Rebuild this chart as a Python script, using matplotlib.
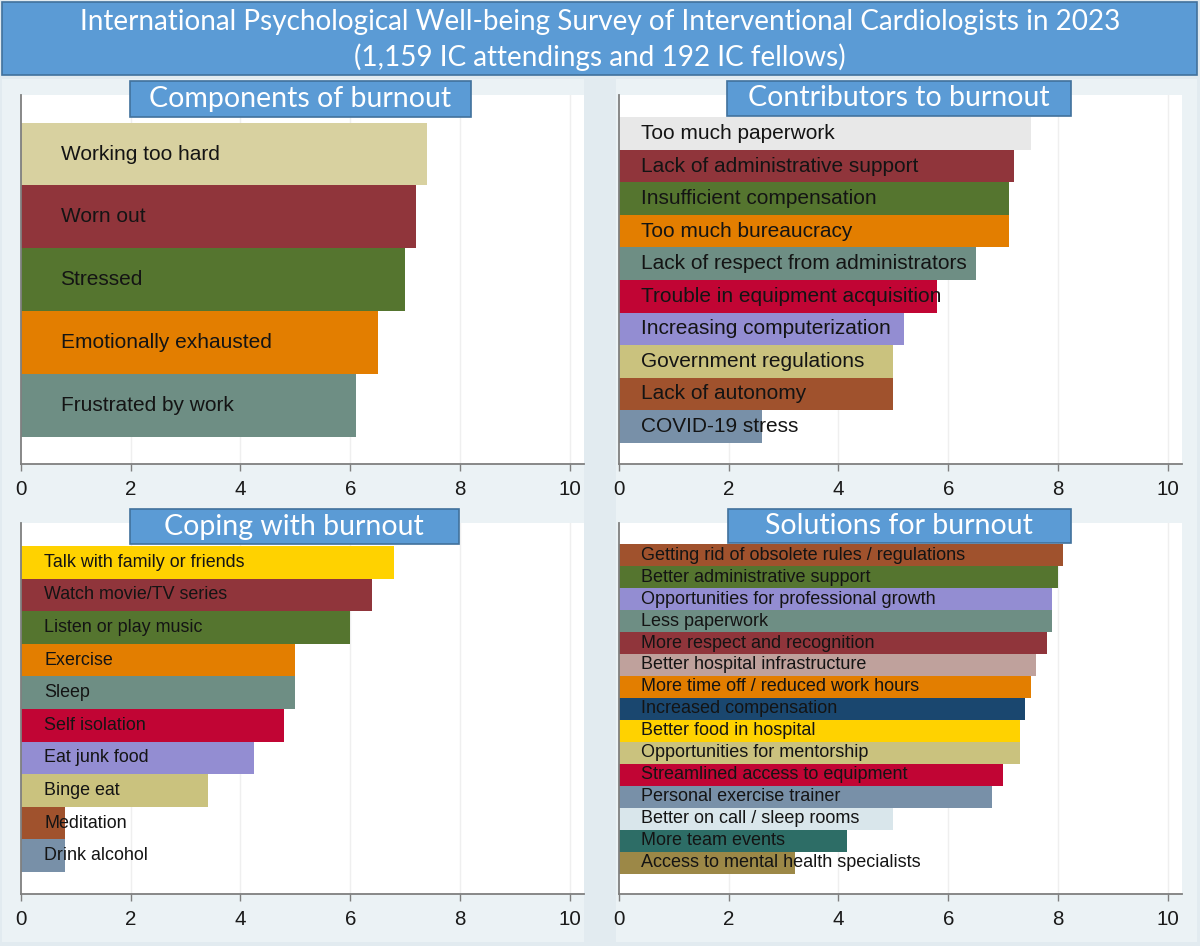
import matplotlib
matplotlib.use("Agg")
import matplotlib.pyplot as plt
from matplotlib.patches import Rectangle

# ---------------- data ----------------
title_line1 = "International Psychological Well-being Survey of Interventional Cardiologists in 2023"
title_line2 = "(1,159 IC attendings and 192 IC fellows)"

components_title = "Components of burnout"
components_labels = ["Working too hard", "Worn out", "Stressed", "Emotionally exhausted", "Frustrated by work"]
components_values = [7.4, 7.2, 7.0, 6.5, 6.1]
components_colors = ["#d8d1a0", "#90353b", "#55752f", "#e37e00", "#6e8e84"]

contributors_title = "Contributors to burnout"
contributors_labels = ["Too much paperwork", "Lack of administrative support", "Insufficient compensation",
                       "Too much bureaucracy", "Lack of respect from administrators",
                       "Trouble in equipment acquisition", "Increasing computerization",
                       "Government regulations", "Lack of autonomy", "COVID-19 stress"]
contributors_values = [7.5, 7.2, 7.1, 7.1, 6.5, 5.8, 5.2, 5.0, 5.0, 2.6]
contributors_colors = ["#e8e8e8", "#90353b", "#55752f", "#e37e00", "#6e8e84",
                       "#c10534", "#938dd2", "#cac27e", "#a0522d", "#7890a8"]

coping_title = "Coping with burnout"
coping_labels = ["Talk with family or friends", "Watch movie/TV series", "Listen or play music",
                 "Exercise", "Sleep", "Self isolation", "Eat junk food", "Binge eat",
                 "Meditation", "Drink alcohol"]
coping_values = [6.8, 6.4, 6.0, 5.0, 5.0, 4.8, 4.25, 3.4, 0.8, 0.8]
coping_colors = ["#ffd200", "#90353b", "#55752f", "#e37e00", "#6e8e84",
                 "#c10534", "#938dd2", "#cac27e", "#a0522d", "#7890a8"]

solutions_title = "Solutions for burnout"
solutions_labels = ["Getting rid of obsolete rules / regulations", "Better administrative support",
                    "Opportunities for professional growth", "Less paperwork",
                    "More respect and recognition", "Better hospital infrastructure",
                    "More time off / reduced work hours", "Increased compensation",
                    "Better food in hospital", "Opportunities for mentorship",
                    "Streamlined access to equipment", "Personal exercise trainer",
                    "Better on call / sleep rooms", "More team events",
                    "Access to mental health specialists"]
solutions_values = [8.1, 8.0, 7.9, 7.9, 7.8, 7.6, 7.5, 7.4, 7.3, 7.3, 7.0, 6.8, 5.0, 4.15, 3.2]
solutions_colors = ["#a0522d", "#55752f", "#938dd2", "#6e8e84", "#90353b", "#bfa19c",
                    "#e37e00", "#1a476f", "#ffd200", "#cac27e", "#c10534", "#7890a8",
                    "#d9e6eb", "#2d6d66", "#9c8847"]

x_ticks = [0, 2, 4, 6, 8, 10]

# ---------------- layout ----------------
W, H = 1200, 946
fig = plt.figure(figsize=(W / 100, H / 100), dpi=100)
fig.patch.set_facecolor("#e2ebf0")

BOX_FACE = "#5b9bd5"
BOX_EDGE = "#41719c"
TITLE_FONT = "Lato"
LABEL_FONT = "Liberation Sans"


def fig_rect(x0, y0, x1, y1, **kw):
    """rectangle in pixel coordinates measured from the top-left corner"""
    r = Rectangle((x0 / W, 1 - y1 / H), (x1 - x0) / W, (y1 - y0) / H,
                  transform=fig.transFigure, **kw)
    fig.add_artist(r)
    return r


# panel backgrounds
fig_rect(2, 79, 584, 942, facecolor="#ebf2f5", edgecolor="none", zorder=0)
fig_rect(616, 79, 1197, 942, facecolor="#ebf2f5", edgecolor="none", zorder=0)

# main title box
fig_rect(2, 2, 1197, 75, facecolor=BOX_FACE, edgecolor=BOX_EDGE, linewidth=1.2, zorder=5)
fig.text(600 / W, 1 - 22 / H, title_line1, color="white", fontsize=20.1, family=TITLE_FONT,
         ha="center", va="center", zorder=6)
fig.text(600 / W, 1 - 57 / H, title_line2, color="white", fontsize=20.1, family=TITLE_FONT,
         ha="center", va="center", zorder=6)


def panel(px0, px1, py0, py1, labels, values, colors, gap_top, gap_bot, text_x, fsize,
          title, box):
    ax = fig.add_axes([px0 / W, 1 - py1 / H, (px1 - px0) / W, (py1 - py0) / H])
    ax.set_facecolor("white")
    n = len(values)
    pos = list(range(n))
    ax.barh(pos, values, height=1.0, color=colors, edgecolor="none", zorder=2)
    for p, lab in zip(pos, labels):
        ax.text(text_x, p, lab, ha="left", va="center", fontsize=fsize,
                family=LABEL_FONT, color="#141414", zorder=3)
    ax.set_ylim(n - 0.5 + gap_bot, -0.5 - gap_top)
    # 0..10 spans 548.7 px
    ax.set_xlim(0, (px1 - px0) / 54.87)
    ax.set_xticks(x_ticks)
    ax.set_xticklabels([str(t) for t in x_ticks], family=LABEL_FONT, fontsize=14.8,
                       color="#1a1a1a")
    ax.set_yticks([])
    ax.tick_params(axis="x", length=5, width=1, color="#7f7f7f", pad=6.5)
    for t in x_ticks[1:]:
        ax.axvline(t, color="#efefef", linewidth=1.0, zorder=1)
    for s in ["top", "right"]:
        ax.spines[s].set_visible(False)
    for s in ["left", "bottom"]:
        ax.spines[s].set_color("#7f7f7f")
        ax.spines[s].set_linewidth(1.3)
    bx0, by0, bx1, by1 = box
    fig_rect(bx0, by0, bx1, by1, facecolor=BOX_FACE, edgecolor=BOX_EDGE, linewidth=1.2, zorder=5)
    fig.text((bx0 + bx1) / 2 / W, 1 - (by0 + by1) / 2 / H, title, color="white", fontsize=20.5,
             family=TITLE_FONT, ha="center", va="center", zorder=6)
    return ax


panel(21, 584, 95, 464, components_labels, components_values, components_colors,
      0.441, 0.435, 0.72, 15, components_title, (129.5, 81, 471, 117))
panel(619, 1182, 95, 464, contributors_labels, contributors_values, contributors_colors,
      0.685, 0.655, 0.4, 15, contributors_title, (727, 81, 1071, 116))
panel(21, 584, 523, 894, coping_labels, coping_values, coping_colors,
      0.706, 0.675, 0.42, 12.9, coping_title, (129.5, 509, 459, 544))
panel(619, 1182, 523, 894, solutions_labels, solutions_values, solutions_colors,
      0.955, 0.91, 0.4, 13, solutions_title, (727.6, 509, 1071, 543))

fig.savefig("out.png", dpi=100, facecolor=fig.get_facecolor())
